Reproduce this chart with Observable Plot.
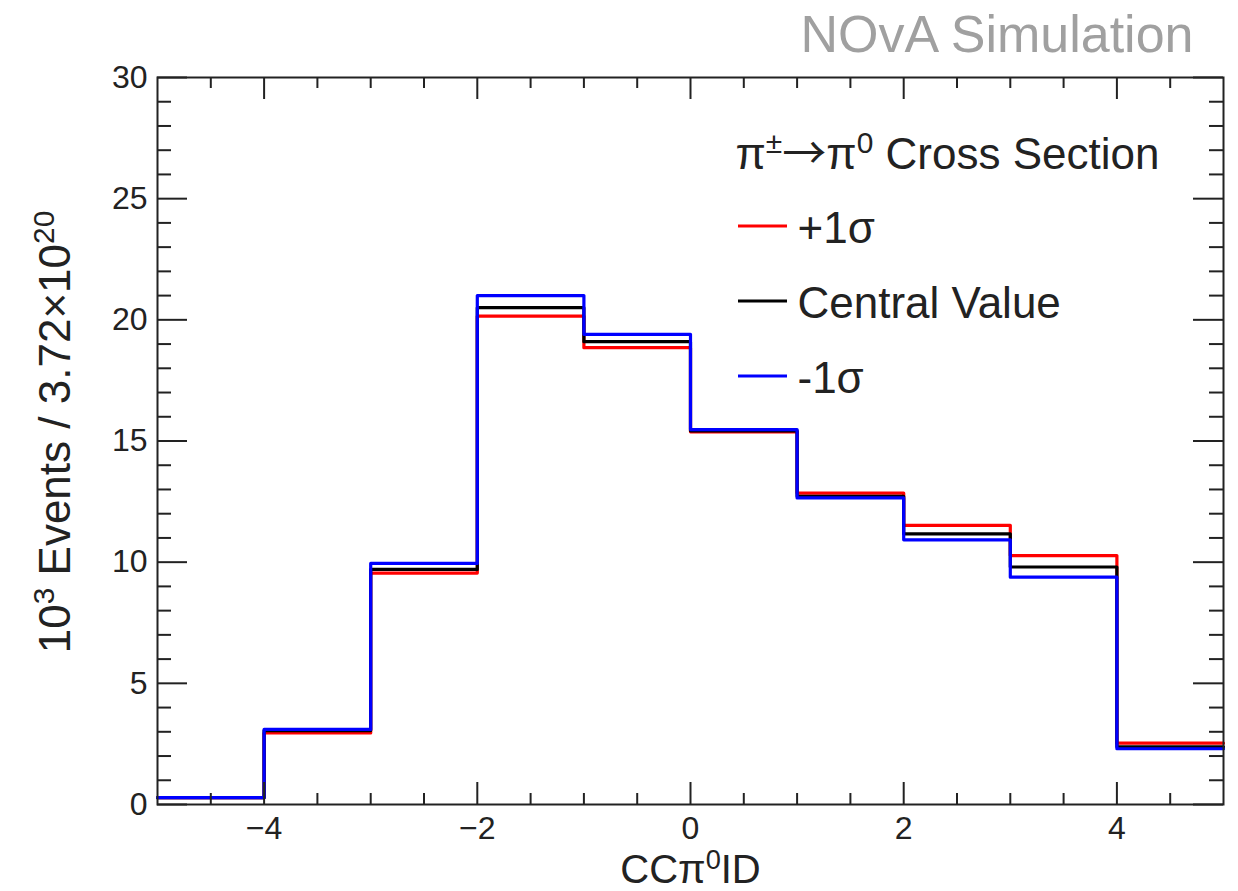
<!DOCTYPE html>
<html>
<head>
<meta charset="utf-8">
<script src="https://cdn.jsdelivr.net/npm/d3@7"></script>
<script src="https://cdn.jsdelivr.net/npm/@observablehq/plot@0.6"></script>
<style>
  html, body { margin: 0; padding: 0; background: #fff; }
</style>
</head>
<body>
<div id="chart"></div>
<script>
// ---- data ----
const binLow = [-5, -4, -3, -2, -1, 0, 1, 2, 3, 4];
const binWidth = 1;
const central = [0.28, 3.05, 9.70, 20.50, 19.10, 15.42, 12.72, 11.17, 9.80, 2.38];
const plusOne = [0.28, 2.95, 9.55, 20.15, 18.85, 15.38, 12.85, 11.52, 10.27, 2.53];
const minusOne = [0.28, 3.10, 9.95, 21.00, 19.40, 15.47, 12.65, 10.92, 9.38, 2.30];

const xMajorTicks = [-4, -2, 0, 2, 4];
const xMinorTicks = [-4.5, -3.5, -3, -2.5, -1.5, -1, -0.5, 0.5, 1, 1.5, 2.5, 3, 3.5, 4.5];
const yMajorTicks = [0, 5, 10, 15, 20, 25, 30];
const yMinorTicks = [1, 2, 3, 4, 6, 7, 8, 9, 11, 12, 13, 14, 16, 17, 18, 19, 21, 22, 23, 24, 26, 27, 28, 29];

const xTitle = "CCπ^{0}ID";
const yTitle = "10^{3} Events / 3.72×10^{20}";
const topLabel = "NOvA Simulation";
const legendTitle = "π^{±}→π^{0} Cross Section";
const legendLabels = ["+1σ", "Central Value", "-1σ"];
const legendColors = ["#ff0000", "#000000", "#0000ff"];

// ---- layout ----
const W = 1238, H = 891;
const mL = 157, mR = 15, mT = 77, mB = 87;
const fw = W - mL - mR, fh = H - mT - mB;
const axisColor = "#222";
const fontFamily = "'Liberation Sans', Arial, Helvetica, sans-serif";

function steps(vals) {
  const pts = binLow.map((x, i) => ({x, y: vals[i]}));
  pts.push({x: binLow[binLow.length - 1] + binWidth, y: vals[vals.length - 1]});
  return pts;
}
const fmt = d => d < 0 ? "\u2212" + Math.abs(d) : String(d);

const legendDy = [151, 226, 301];
const txt = {text: d => d, lineAnchor: "middle", fill: axisColor};

const marks = [
  Plot.line(steps(plusOne), {x: "x", y: "y", curve: "step-after", stroke: legendColors[0], strokeWidth: 3.2}),
  Plot.line(steps(central), {x: "x", y: "y", curve: "step-after", stroke: legendColors[1], strokeWidth: 3.2}),
  Plot.line(steps(minusOne), {x: "x", y: "y", curve: "step-after", stroke: legendColors[2], strokeWidth: 3.2}),
  // ticks (inward, on all four sides)
  Plot.tickX(xMajorTicks, {x: d => d, insetTop: fh - 22, stroke: axisColor, strokeWidth: 2}),
  Plot.tickX(xMajorTicks, {x: d => d, insetBottom: fh - 22, stroke: axisColor, strokeWidth: 2}),
  Plot.tickX(xMinorTicks, {x: d => d, insetTop: fh - 11, stroke: axisColor, strokeWidth: 2}),
  Plot.tickX(xMinorTicks, {x: d => d, insetBottom: fh - 11, stroke: axisColor, strokeWidth: 2}),
  Plot.tickY(yMajorTicks, {y: d => d, insetRight: fw - 30, stroke: axisColor, strokeWidth: 2}),
  Plot.tickY(yMajorTicks, {y: d => d, insetLeft: fw - 30, stroke: axisColor, strokeWidth: 2}),
  Plot.tickY(yMinorTicks, {y: d => d, insetRight: fw - 14, stroke: axisColor, strokeWidth: 2}),
  Plot.tickY(yMinorTicks, {y: d => d, insetLeft: fw - 14, stroke: axisColor, strokeWidth: 2}),
  Plot.axisX(xMajorTicks, {tickSize: 0, tickPadding: 12, fontSize: 32, tickFormat: fmt, label: null, fill: axisColor}),
  Plot.axisY(yMajorTicks, {tickSize: 0, tickPadding: 10, fontSize: 32, tickFormat: fmt, label: null, fill: axisColor}),
  Plot.frame({stroke: axisColor, strokeWidth: 2}),
  // titles
  Plot.text([xTitle], {...txt, frameAnchor: "bottom", textAnchor: "middle", dy: 66, fontSize: 40}),
  Plot.text([yTitle], {...txt, frameAnchor: "left", textAnchor: "middle", rotate: -90, dx: -102, dy: -9, fontSize: 44}),
  Plot.text([topLabel], {...txt, frameAnchor: "top-right", textAnchor: "end", dx: -30, dy: -42, fontSize: 52, fill: "#a0a0a0"}),
  // legend
  Plot.text([legendTitle], {...txt, frameAnchor: "top-left", textAnchor: "start", dx: 578, dy: 77, fontSize: 44})
];
legendLabels.forEach((lab, i) => {
  marks.push(Plot.text([lab], {...txt, frameAnchor: "top-left", textAnchor: "start", dx: 640, dy: legendDy[i], fontSize: 44}));
});

const svg = Plot.plot({
  width: W, height: H,
  marginLeft: mL, marginRight: mR, marginTop: mT, marginBottom: mB,
  style: {fontFamily, background: "#fff", color: axisColor, overflow: "visible"},
  x: {domain: [-5, 5], label: null},
  y: {domain: [0, 30], label: null},
  marks
});
document.getElementById("chart").appendChild(svg);

// legend swatches
const ns = "http://www.w3.org/2000/svg";
const sw = d3.select(svg).append("g").attr("class", "legend-swatches");
legendLabels.forEach((lab, i) => {
  const y = mT + legendDy[i] - 2;
  sw.append("line")
    .attr("x1", mL + 581).attr("x2", mL + 630)
    .attr("y1", y).attr("y2", y)
    .attr("stroke", legendColors[i]).attr("stroke-width", 3);
});

// superscripts ^{...} and a wider arrow glyph
svg.querySelectorAll("text").forEach(t => {
  const s = t.textContent;
  if (!s.includes("^{") && !s.includes("→")) return;
  const fs = parseFloat(getComputedStyle(t).fontSize);
  const shift = 0.36 * fs;
  const parts = s.split(/(\^\{[^}]*\}|→)/);
  while (t.firstChild) t.removeChild(t.firstChild);
  let raised = false;
  parts.forEach(p => {
    if (!p) return;
    const ts = document.createElementNS(ns, "tspan");
    if (p.startsWith("^{")) {
      ts.textContent = p.slice(2, -1);
      ts.setAttribute("font-size", 0.68 * fs);
      ts.setAttribute("dy", -shift);
      raised = true;
    } else {
      ts.textContent = p;
      if (p === "→") {
        ts.setAttribute("font-family", "'Noto Sans CJK SC', 'DejaVu Sans'");
        ts.setAttribute("font-size", fs);
      }
      if (raised) { ts.setAttribute("dy", shift); raised = false; }
    }
    t.appendChild(ts);
  });
});
</script>
</body>
</html>
